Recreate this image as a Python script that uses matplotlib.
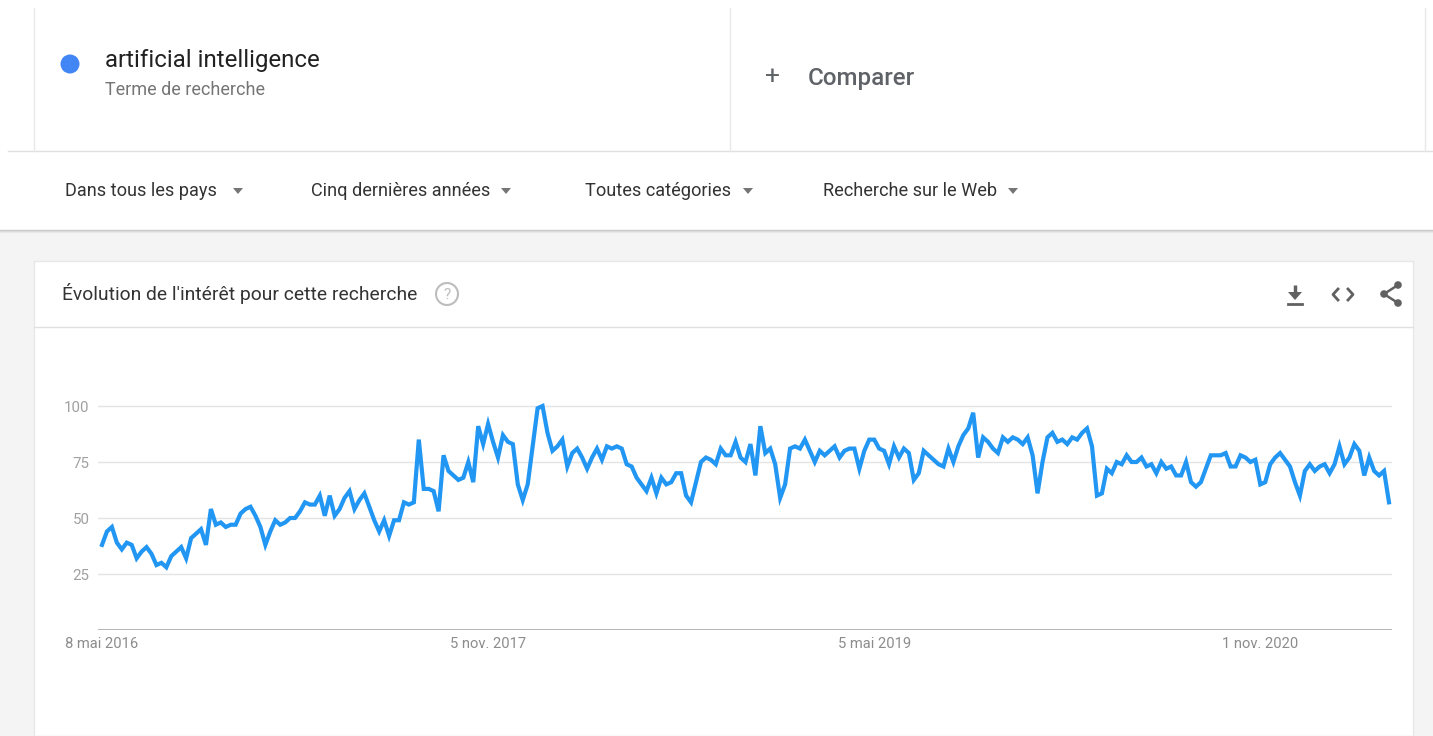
import matplotlib
matplotlib.use("Agg")
import matplotlib.pyplot as plt
from matplotlib.patches import Rectangle, Circle, Polygon
import pandas as pd

# weekly interest for "artificial intelligence" (Google Trends, 5 years)
start_date = "2016-05-08"
interest = [
    38, 44, 46, 39, 36, 39, 38, 32, 35, 37,
    34, 29, 30, 28, 33, 35, 37, 32, 41, 43,
    45, 38, 54, 47, 48, 46, 47, 47, 52, 54,
    55, 51, 46, 38, 44, 49, 47, 48, 50, 50,
    53, 57, 56, 56, 60, 51, 60, 51, 54, 59,
    62, 54, 58, 61, 55, 49, 44, 49, 42, 49,
    49, 57, 56, 57, 85, 63, 63, 62, 53, 78,
    71, 69, 67, 68, 75, 66, 91, 83, 92, 84,
    77, 87, 84, 83, 65, 58, 65, 82, 99, 100,
    88, 80, 82, 85, 73, 79, 81, 77, 72, 77,
    81, 76, 82, 81, 82, 81, 74, 73, 68, 65,
    62, 68, 61, 68, 65, 66, 70, 70, 60, 57,
    66, 75, 77, 76, 74, 81, 78, 78, 84, 77,
    75, 83, 69, 91, 79, 81, 74, 59, 65, 81,
    82, 81, 85, 80, 75, 80, 78, 80, 82, 77,
    80, 81, 81, 72, 80, 85, 85, 81, 80, 74,
    82, 77, 81, 79, 67, 70, 80, 78, 76, 74,
    73, 81, 75, 82, 87, 90, 97, 77, 86, 84,
    81, 79, 86, 84, 86, 85, 83, 86, 78, 61,
    75, 86, 88, 84, 85, 83, 86, 85, 88, 90,
    82, 60, 61, 72, 70, 75, 74, 78, 75, 75,
    77, 73, 74, 70, 75, 72, 73, 69, 69, 75,
    66, 64, 66, 72, 78, 78, 78, 79, 73, 73,
    78, 77, 75, 76, 65, 66, 74, 77, 79, 76,
    73, 66, 60, 71, 74, 71, 73, 74, 70, 74,
    82, 74, 77, 83, 80, 69, 77, 71, 69, 71,
    57,
]
y_ticks = [25, 50, 75, 100]
x_tick_dates = ["2016-05-08", "2017-11-05", "2019-05-05", "2020-11-01"]
x_tick_labels = ["8 mai 2016", "5 nov. 2017", "5 mai 2019", "1 nov. 2020"]

search_term = "artificial intelligence"
term_type = "Terme de recherche"
filters = ["Dans tous les pays", "Cinq dernières années", "Toutes catégories", "Recherche sur le Web"]
card_title = "Évolution de l'intérêt pour cette recherche"

W, H = 1433, 736
FONT = "Roboto"


def down_triangle(ax, x, y, color="#757575"):
    ax.add_patch(Polygon([(x - 5, y - 3), (x + 5, y - 3), (x, y + 3)], closed=True,
                         color=color, lw=0))


def draw_page(bg):
    """page chrome: search term box, filter bar, card"""
    bg.set_xlim(0, W)
    bg.set_ylim(H, 0)
    bg.axis("off")

    # grey page under the filter bar
    bg.add_patch(Rectangle((0, 232), W, H - 232, color="#f4f4f4", lw=0))
    for i, c in enumerate(["#c8c8c8", "#d8d8d8", "#e8e8e8"]):
        bg.plot([0, W], [230 + i, 230 + i], color=c, lw=1)

    # search term box
    bg.plot([8, W], [151, 151], color="#e0e0e0", lw=1)
    for x in [34, 730, 1425]:
        bg.plot([x, x], [8, 151], color="#e8e8e8", lw=1)
    bg.add_patch(Circle((70, 64), 9.5, color="#4285f4", lw=0))
    bg.text(105, 61, search_term, fontsize=17.3, family=FONT, color="#212121", va="center")
    bg.text(105, 90, term_type, fontsize=13, family=FONT, color="#757575", va="center")
    bg.text(773, 77, "+", fontsize=19, family=FONT, color="#5f6368", va="center", ha="center")
    bg.text(808, 78, "Comparer", fontsize=17.4, family=FONT, color="#5f6368", va="center",
            weight="medium")

    # filter bar
    filter_x = [65, 311, 585, 823]
    arrow_x = [238, 506, 748, 1013]
    for label, fx, ax_ in zip(filters, filter_x, arrow_x):
        bg.text(fx, 191, label, fontsize=13.1, family=FONT, color="#333333", va="center")
        down_triangle(bg, ax_, 191)

    # card
    bg.add_patch(Rectangle((34, 261), 1379, H - 261, facecolor="white",
                           edgecolor="#e8e8e8", lw=1))
    bg.plot([34, 1413], [327, 327], color="#e0e0e0", lw=1)
    bg.text(62, 294, card_title, fontsize=13.9, family=FONT, color="#333333", va="center")
    bg.add_patch(Circle((447, 294), 11, facecolor="none", edgecolor="#bdbdbd", lw=1.5))
    bg.text(447, 295, "?", fontsize=11, family=FONT, color="#bdbdbd", va="center", ha="center")

    # icons: download, embed, share
    icon = "#616161"
    bg.plot([1295, 1295], [285, 293], color=icon, lw=2.5, solid_capstyle="butt")
    bg.add_patch(Polygon([(1288, 292), (1302, 292), (1295, 300)], closed=True, color=icon, lw=0))
    bg.plot([1288, 1302], [304, 304], color=icon, lw=2)
    bg.plot([1338, 1333, 1338], [289, 294.5, 300], color=icon, lw=2)
    bg.plot([1348, 1353, 1348], [289, 294.5, 300], color=icon, lw=2)
    bg.plot([1398, 1384, 1398], [285, 294, 303], color=icon, lw=1.8)
    for cx, cy in [(1398, 285), (1384, 294), (1398, 303)]:
        bg.add_patch(Circle((cx, cy), 3.8, color=icon, lw=0))


def draw_chart(fig):
    """the interest over time line"""
    dates = pd.date_range(start_date, periods=len(interest), freq="W-SUN")
    left, right, top, bottom = 98, 1392, 399.3, 630
    ax = fig.add_axes([left / W, 1 - bottom / H, (right - left) / W, (bottom - top) / H])
    ax.set_facecolor("none")

    week_px = 4.95
    pad_l = pd.Timedelta(days=7 * 4 / week_px)
    pad_r = pd.Timedelta(days=7 * 3 / week_px)
    ax.set_xlim(dates[0] - pad_l, dates[-1] + pad_r)
    ax.set_ylim(0, 103)

    for v in y_ticks:
        ax.axhline(v, color="#e4e4e4", lw=1, zorder=1)
    ax.axhline(0, color="#a8a8a8", lw=1.2, zorder=1)

    ax.plot(dates, interest, color="#2196f3", lw=3, zorder=3, solid_joinstyle="miter",
            clip_on=False)

    for s in ax.spines.values():
        s.set_visible(False)
    ax.set_yticks(y_ticks)
    ax.set_yticklabels([str(v) for v in y_ticks], family=FONT, fontsize=10.8, color="#a0a0a0")
    ax.set_xticks(pd.to_datetime(x_tick_dates))
    ax.set_xticklabels(x_tick_labels, family=FONT, fontsize=10.6, color="#8c8c8c")
    ax.tick_params(axis="y", length=0, pad=6)
    ax.tick_params(axis="x", length=0, pad=5)
    return ax


def main():
    fig = plt.figure(figsize=(W / 100, H / 100), dpi=100)
    fig.patch.set_facecolor("white")
    bg = fig.add_axes([0, 0, 1, 1])
    bg.set_zorder(0)
    draw_page(bg)
    ax = draw_chart(fig)
    ax.set_zorder(1)
    fig.savefig("out.png", dpi=100)


if __name__ == "__main__":
    main()
